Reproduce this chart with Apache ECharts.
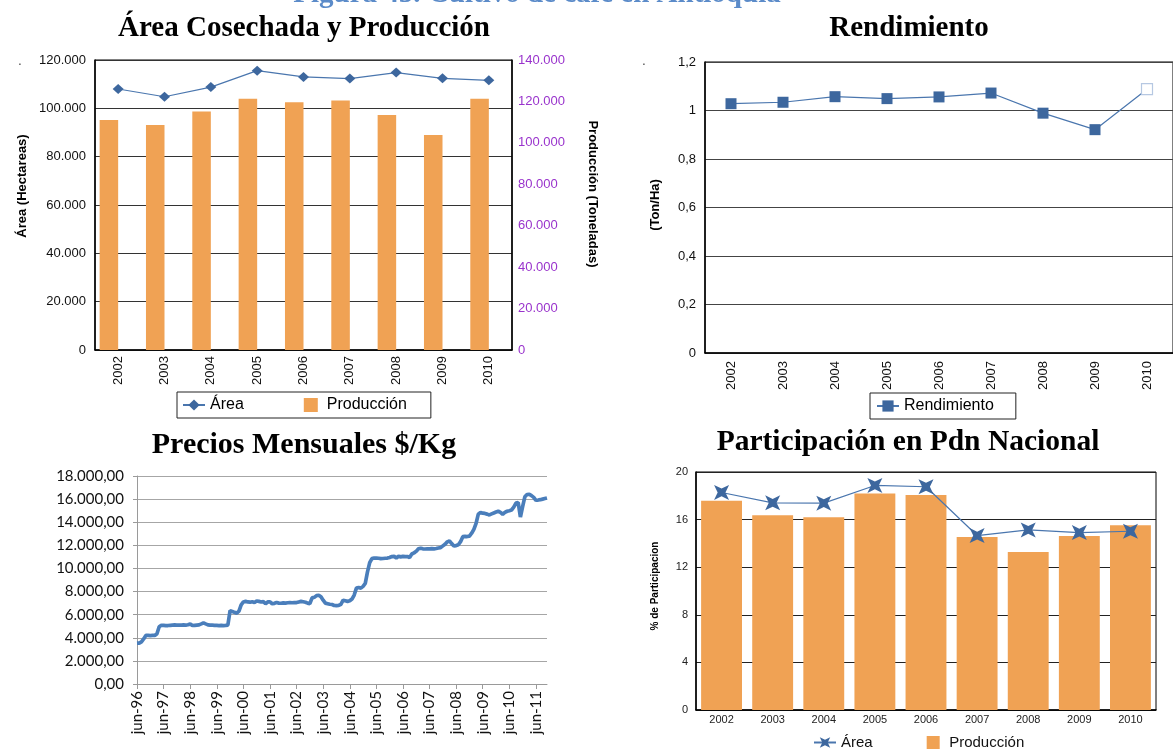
<!DOCTYPE html>
<html><head><meta charset="utf-8">
<script src="https://cdn.jsdelivr.net/npm/echarts@6/dist/echarts.min.js"></script>
<style>html,body{margin:0;padding:0;background:#fff}#c{width:1173px;height:749px}</style>
</head><body><div id="c"></div>
<script>
// ---------- DATA ----------
const years = ['2002','2003','2004','2005','2006','2007','2008','2009','2010'];
const areaHa = [108000, 104800, 108800, 115600, 113000, 112300, 114800, 112400, 111600];
const produccionTon = [111000, 108600, 115100, 121300, 119600, 120500, 113400, 103800, 121300];
const rendimiento = [1.028, 1.034, 1.057, 1.049, 1.056, 1.072, 0.989, 0.921, 1.088];
const partArea = [18.28, 17.41, 17.38, 18.87, 18.76, 14.66, 15.13, 14.91, 15.02];
const partProduccion = [17.58, 16.37, 16.2, 18.2, 18.06, 14.54, 13.28, 14.63, 15.53];
const monthNames = ['ene','feb','mar','abr','may','jun','jul','ago','sep','oct','nov','dic'];
const priceStartYear = 1996, priceStartMonth = 5; // jun-96
const precios = [
 3530, 3540, 3650, 3900, 4200, 4210, 4190, 4200, 4200, 4350, 4950, 5080,
 5070, 5050, 5060, 5080, 5100, 5110, 5100, 5090, 5100, 5110, 5100, 5130,
 5200, 5060, 5080, 5100, 5120, 5200, 5290, 5200, 5120, 5100, 5090, 5080,
 5070, 5060, 5070, 5060, 5070, 5100, 6350, 6280, 6200, 6130, 6300, 6850,
 7100, 7150, 7100, 7080, 7120, 7050, 7180, 7150, 7100, 7130, 6950, 7100,
 7120, 6940, 6980, 7050, 7000, 6990, 7020, 7000, 7030, 7040, 7030, 7050,
 7050, 7100, 7150, 7120, 7080, 7000, 6950, 7450, 7500, 7650, 7680, 7550,
 7250, 7000, 6950, 6900, 6880, 6800, 6790, 6800, 6900, 7250, 7200, 7150,
 7200, 7350, 7700, 8300, 8350, 8300, 8450, 8700, 9700, 10500, 10850, 10900,
 10900, 10880, 10850, 10860, 10880, 10900, 10950, 11030, 11050, 10900, 11050, 11000,
 11050, 11020, 11030, 10950, 11250, 11350, 11480, 11700, 11750, 11700, 11680, 11700,
 11700, 11720, 11700, 11730, 11770, 11800, 11950, 12100, 12300, 12380, 12150, 11950,
 11980, 12050, 12320, 12750, 12780, 12760, 12800, 13050, 13380, 13900, 14700, 14850,
 14780, 14760, 14700, 14630, 14720, 14800, 14880, 14950, 14850, 14690, 14850, 14950,
 15000, 15060, 15300, 15650, 15700, 14450, 15350, 16200, 16400, 16420, 16300, 16150,
 15900, 15920, 15950, 16000, 16050, 16100
];
const priceMonths = precios.map((_, i) => {
  const t = priceStartMonth + i;
  const y = (priceStartYear + Math.floor(t / 12)) % 100;
  return monthNames[t % 12] + '-' + String(y).padStart(2, '0');
});

// ---------- STYLE ----------
const SANS = '"Liberation Sans", Arial, sans-serif';
const SERIF = '"Liberation Serif", "Times New Roman", serif';
const CAL = 'Lato, "Open Sans", sans-serif';
const ORANGE = '#F0A254';
const BLUE = '#3D679E';
const thousands = v => String(v).replace(/\B(?=(\d{3})+(?!\d))/g, '.');
const starX = 'path://M0,0L5,2.4L10,0L7.6,5L10,10L5,7.6L0,10L2.4,5Z';
const square = 'path://M0,0H10V10H0Z';

function txt(text, x, y, font, fill, rot) {
  return { type: 'text', x: x, y: y, rotation: rot || 0, z: 100,
    style: { text: text, font: font, fill: fill || '#000', textAlign: 'center', align: 'center',
             textVerticalAlign: 'middle', verticalAlign: 'middle' } };
}

const chart = echarts.init(document.getElementById('c'), null, { renderer: 'canvas' });
chart.setOption({
  animation: false,
  backgroundColor: '#fff',
  grid: [
    { left: 95, top: 60, width: 417, height: 290, show: true, borderColor: '#000', borderWidth: 1, backgroundColor: 'transparent' },
    { left: 705, top: 62, width: 481, height: 291, show: true, borderColor: '#000', borderWidth: 1, backgroundColor: 'transparent' },
    { left: 137, top: 476, width: 410, height: 208 },
    { left: 696, top: 472, width: 460, height: 238, show: true, borderColor: '#000', borderWidth: 1, backgroundColor: 'transparent' }
  ],
  xAxis: [
    { gridIndex: 0, type: 'category', data: years,
      axisLine: { lineStyle: { color: '#000', width: 1.5 } }, axisTick: { show: false },
      axisLabel: { rotate: 90, fontSize: 13, fontFamily: SANS, color: '#111', margin: 6 } },
    { gridIndex: 1, type: 'category', data: years,
      axisLine: { lineStyle: { color: '#000', width: 1.5 } }, axisTick: { show: false },
      axisLabel: { rotate: 90, fontSize: 13, fontFamily: SANS, color: '#111', margin: 8 } },
    { gridIndex: 2, type: 'category', data: priceMonths, boundaryGap: false,
      axisLine: { lineStyle: { color: '#9a9a9a', width: 1 } },
      axisTick: { show: true, interval: 11, length: 5, lineStyle: { color: '#9a9a9a' } },
      axisLabel: { interval: 11, rotate: 90, fontSize: 15, fontFamily: CAL, color: '#111', margin: 7 } },
    { gridIndex: 3, type: 'category', data: years,
      axisLine: { lineStyle: { color: '#000', width: 1.5 } }, axisTick: { show: false },
      axisLabel: { fontSize: 11, fontFamily: SANS, color: '#222', margin: 4 } }
  ],
  yAxis: [
    { gridIndex: 0, type: 'value', min: 0, max: 120000, interval: 20000,
      axisLine: { show: true, lineStyle: { color: '#000', width: 1.5 } }, axisTick: { show: false },
      axisLabel: { formatter: thousands, fontSize: 13, fontFamily: SANS, color: '#111', margin: 9 },
      splitLine: { lineStyle: { color: '#333', width: 1 } } },
    { gridIndex: 0, type: 'value', position: 'right', min: 0, max: 140000, interval: 20000,
      axisLine: { show: true, lineStyle: { color: '#000', width: 1.5 } }, axisTick: { show: false },
      axisLabel: { formatter: thousands, fontSize: 13, fontFamily: SANS, color: '#9933CC', margin: 6 },
      splitLine: { show: false } },
    { gridIndex: 1, type: 'value', min: 0, max: 1.2, interval: 0.2,
      axisLine: { show: true, lineStyle: { color: '#000', width: 1.5 } }, axisTick: { show: false },
      axisLabel: { formatter: v => String(+v.toFixed(1)).replace('.', ','), fontSize: 13, fontFamily: SANS, color: '#111', margin: 9 },
      splitLine: { lineStyle: { color: '#444', width: 1 } } },
    { gridIndex: 2, type: 'value', min: 0, max: 18000, interval: 2000,
      axisLine: { show: true, lineStyle: { color: '#9a9a9a', width: 1 } },
      axisTick: { show: true, length: 4, lineStyle: { color: '#9a9a9a' } },
      axisLabel: { formatter: v => thousands(v) + ',00', fontSize: 15, fontFamily: CAL, color: '#111', margin: 13 },
      splitLine: { lineStyle: { color: '#a6a6a6', width: 1 } } },
    { gridIndex: 3, type: 'value', min: 0, max: 20, interval: 4,
      axisLine: { show: true, lineStyle: { color: '#000', width: 1.5 } }, axisTick: { show: false },
      axisLabel: { fontSize: 11, fontFamily: SANS, color: '#222', margin: 8 },
      splitLine: { lineStyle: { color: '#222', width: 1 } } }
  ],
  legend: [
    { data: ['Área', { name: 'Producción', icon: square }], left: 177, top: 392,
      orient: 'horizontal', borderColor: '#222', borderWidth: 1, padding: [5, 24, 5, 5],
      itemGap: 60, itemWidth: 22, itemHeight: 14, selectedMode: false,
      textStyle: { fontSize: 16, fontFamily: SANS, color: '#000' } },
    { data: ['Rendimiento'], left: 870, top: 393, borderColor: '#222', borderWidth: 1,
      padding: [5, 22, 5, 6], itemWidth: 22, itemHeight: 14, selectedMode: false,
      textStyle: { fontSize: 16, fontFamily: SANS, color: '#000' } },
    { data: ['Área ', { name: 'Producción ', icon: square }], left: 808, top: 730,
      itemGap: 54, itemWidth: 22, itemHeight: 13, selectedMode: false,
      formatter: n => n.trim(),
      textStyle: { fontSize: 15, fontFamily: SANS, color: '#111' } }
  ],
  series: [
    { name: 'Producción', type: 'bar', xAxisIndex: 0, yAxisIndex: 1, data: produccionTon,
      barWidth: '40%', barGap: '0%', itemStyle: { color: ORANGE }, z: 2 },
    { name: 'hueco', type: 'bar', xAxisIndex: 0, yAxisIndex: 1, data: [],
      barWidth: '40%', barGap: '0%', itemStyle: { color: 'transparent' }, silent: true },
    { name: 'Área', type: 'line', xAxisIndex: 0, yAxisIndex: 0, data: areaHa,
      symbol: 'diamond', symbolSize: [11, 10], lineStyle: { color: '#4A76AE', width: 1.2 },
      itemStyle: { color: BLUE }, z: 3 },
    { name: 'Rendimiento', type: 'line', xAxisIndex: 1, yAxisIndex: 2,
      data: rendimiento.map((v, i) => i === rendimiento.length - 1
        ? { value: v, itemStyle: { color: '#fff', borderColor: '#B6C8E2', borderWidth: 1.2 } } : v),
      symbol: 'rect', symbolSize: 11, lineStyle: { color: '#4A76AE', width: 1.2 },
      itemStyle: { color: BLUE } },
    { name: 'Precio', type: 'line', xAxisIndex: 2, yAxisIndex: 3, data: precios,
      showSymbol: false, symbol: 'none', lineStyle: { color: '#4A7EBB', width: 3.7 } },
    { name: 'Producción ', type: 'bar', xAxisIndex: 3, yAxisIndex: 4, data: partProduccion,
      barCategoryGap: '20%', itemStyle: { color: ORANGE }, z: 2 },
    { name: 'Área ', type: 'line', xAxisIndex: 3, yAxisIndex: 4, data: partArea,
      symbol: starX, symbolSize: 15, lineStyle: { color: '#4A76AE', width: 1.2 },
      itemStyle: { color: BLUE }, z: 3 }
  ],
  graphic: [
    txt('Figura 45. Cultivo de café en Antioquia', 537, -5, 'bold 29px ' + SERIF, '#5B8BC9'),
    txt('Área Cosechada y Producción', 304, 29, 'bold 29px ' + SERIF, '#000'),
    txt('Rendimiento', 909, 29, 'bold 29px ' + SERIF, '#000'),
    txt('Precios Mensuales $/Kg', 304, 445, 'bold 30px ' + SERIF, '#000'),
    txt('Participación en Pdn Nacional', 908, 442, 'bold 29.5px ' + SERIF, '#000'),
    txt('Área (Hectareas)', 22, 186, 'bold 13px ' + SANS, '#000', Math.PI / 2),
    txt('Producción (Toneladas)', 593, 194, 'bold 13px ' + SANS, '#000', -Math.PI / 2),
    txt('(Ton/Ha)', 655, 205, 'bold 13px ' + SANS, '#000', Math.PI / 2),
    txt('% de Participacion', 655, 586, 'bold 10px ' + SANS, '#000', Math.PI / 2),
    txt('.', 20, 62, '12px ' + SANS, '#333'),
    txt('.', 644, 62, '12px ' + SANS, '#333')
  ]
});
</script>
</body></html>
